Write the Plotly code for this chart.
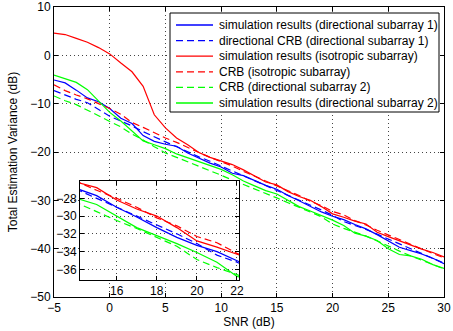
import plotly.graph_objects as go

snr = list(range(-5, 31))

sim_dir1 = [-5.1, -5.7, -7.2, -8.8, -9.6, -11.0, -13.0, -14.1, -16.6, -17.8,
            -18.4, -18.8, -20.2, -21.3, -22.3, -23.1, -24.4, -24.9, -25.9, -26.9,
            -27.7, -29.0, -30.1, -31.3, -32.4, -33.3, -34.0, -35.0, -35.9, -37.1,
            -38.4, -39.7, -40.4, -41.1, -42.0, -43.1]
crb_dir1 = [-7.3, -8.2, -9.1, -9.8, -11.2, -12.6, -13.6, -14.6, -15.8, -16.9,
            -17.9, -18.9, -20.0, -21.0, -21.9, -22.9, -24.0, -25.0, -26.0, -27.0,
            -28.0, -29.0, -30.0, -31.0, -32.0, -33.1, -34.4, -35.2, -36.0, -37.0,
            -38.0, -39.0, -40.0, -41.0, -42.0, -43.0]
sim_iso = [4.6, 4.3, 3.5, 2.7, 1.6, 0.3, -1.6, -3.4, -6.4, -12.3,
           -15.0, -17.1, -18.5, -20.1, -21.1, -21.8, -22.6, -23.7, -24.9, -26.2,
           -26.8, -28.2, -29.2, -30.0, -31.3, -32.8, -33.5, -34.3, -34.9, -36.6,
           -37.5, -38.4, -39.3, -40.1, -40.8, -41.7]
crb_iso = [-6.1, -7.3, -8.2, -9.0, -10.0, -11.0, -12.2, -13.9, -14.9, -16.0,
           -17.1, -18.0, -19.1, -20.1, -21.1, -22.0, -22.9, -24.0, -25.0, -26.1,
           -27.1, -28.0, -29.0, -30.2, -31.1, -32.3, -33.0, -34.2, -35.1, -36.2,
           -37.1, -38.1, -39.1, -40.1, -41.0, -41.9]
crb_dir2 = [-8.4, -9.4, -10.2, -11.3, -12.5, -13.7, -14.8, -16.3, -17.5, -18.9,
            -20.2, -21.1, -22.0, -23.0, -23.9, -24.8, -25.8, -26.7, -27.6, -28.5,
            -29.5, -30.5, -31.4, -32.4, -33.4, -34.9, -35.8, -36.6, -37.4, -38.4,
            -39.5, -40.5, -41.5, -42.4, -43.3, -44.2]
sim_dir2 = [-4.1, -4.8, -5.6, -7.1, -9.5, -11.8, -13.6, -15.6, -17.7, -18.5,
            -19.3, -20.4, -21.2, -21.9, -22.7, -23.6, -24.7, -26.0, -27.0, -28.0,
            -28.7, -30.0, -31.3, -32.2, -33.1, -34.1, -35.2, -36.8, -37.4, -38.3,
            -40.0, -41.2, -41.5, -42.2, -43.3, -44.1]

names = ["simulation results (directional subarray 1)",
         "directional CRB (directional subarray 1)",
         "simulation results (isotropic subarray)",
         "CRB (isotropic subarray)",
         "CRB (directional subarray 2)",
         "simulation results (directional subarray 2)"]
series = [sim_dir1, crb_dir1, sim_iso, crb_iso, crb_dir2, sim_dir2]
colors = ["#0000ff", "#0000ff", "#ff0000", "#ff0000", "#00ff00", "#00ff00"]
dashes = ["solid", "7px,4px", "solid", "7px,4px", "7px,4px", "solid"]

main_xticks = [-5, 0, 5, 10, 15, 20, 25, 30]
main_yticks = [-50, -40, -30, -20, -10, 0, 10]
inset_xticks = [16, 18, 20, 22]
inset_yticks = [-36, -34, -32, -30, -28]

FONT = "Liberation Sans, Arial, sans-serif"

# geometry helpers (page pixels -> paper fraction of the main plot area)
ML, MR, MT, MB = 54, 9, 7, 34
W, H = 453, 331
PW, PH = W - ML - MR, H - MT - MB


def px(x):
    return (x - ML) / PW


def py(y):
    return (H - MB - y) / PH


fig = go.Figure()
for name, ys, c, d in zip(names, series, colors, dashes):
    fig.add_trace(go.Scatter(x=snr, y=ys, mode="lines", name=name,
                             line=dict(color=c, width=1.2, dash=d),
                             xaxis="x", yaxis="y", showlegend=False))
for name, ys, c, d in zip(names, series, colors, dashes):
    fig.add_trace(go.Scatter(x=snr, y=ys, mode="lines", name=name,
                             line=dict(color=c, width=1.2, dash=d),
                             xaxis="x2", yaxis="y2", showlegend=False))

grid = dict(showgrid=True, gridcolor="#444", gridwidth=1, griddash="1px,3px",
            zeroline=False, showline=True, linecolor="black", linewidth=1,
            mirror="ticks", ticks="inside", ticklen=4, tickcolor="black",
            automargin=False,
            tickfont=dict(family=FONT, size=12, color="black"))

# legend drawn as a boxed key
shapes = [dict(type="rect", xref="paper", yref="paper",
               x0=px(170), x1=px(439), y0=py(112), y1=py(13),
               fillcolor="white", line=dict(color="black", width=1),
               layer="above")]
annotations = []
for i, (name, c, d) in enumerate(zip(names, colors, dashes)):
    yy = 25 + 15.6 * i
    shapes.append(dict(type="line", xref="paper", yref="paper",
                       x0=px(176), x1=px(213), y0=py(yy), y1=py(yy),
                       line=dict(color=c, width=1.3, dash=d), layer="above"))
    annotations.append(dict(text=name, xref="paper", yref="paper",
                            x=px(217), y=py(yy), xanchor="left",
                            yanchor="middle", showarrow=False,
                            font=dict(family=FONT, size=12, color="black")))

fig.update_layout(
    width=W, height=H,
    margin=dict(l=ML, r=MR, t=MT, b=MB),
    paper_bgcolor="white", plot_bgcolor="white",
    font=dict(family=FONT, size=12, color="black"),
    showlegend=False,
    shapes=shapes, annotations=annotations,
    xaxis=dict(range=[-5, 30], tickvals=main_xticks, domain=[0, 1],
               title=dict(text="SNR (dB)", standoff=1,
                          font=dict(family=FONT, size=12)),
               **grid),
    yaxis=dict(range=[-50, 10], tickvals=main_yticks, domain=[0, 1],
               title=dict(text="Total Estimation Variance (dB)", standoff=10,
                          font=dict(family=FONT, size=12)),
               **grid),
    xaxis2=dict(range=[14.17, 22.1], tickvals=inset_xticks,
                domain=[px(80), px(239)], anchor="y2", **grid),
    yaxis2=dict(range=[-37.2, -26.05], tickvals=inset_yticks,
                domain=[py(280), py(181)], anchor="x2", **grid),
)

fig.write_html("out.html",
               config={"displayModeBar": False},
               post_script="document.body.style.margin='0';"
                           "document.body.style.overflow='hidden';")
